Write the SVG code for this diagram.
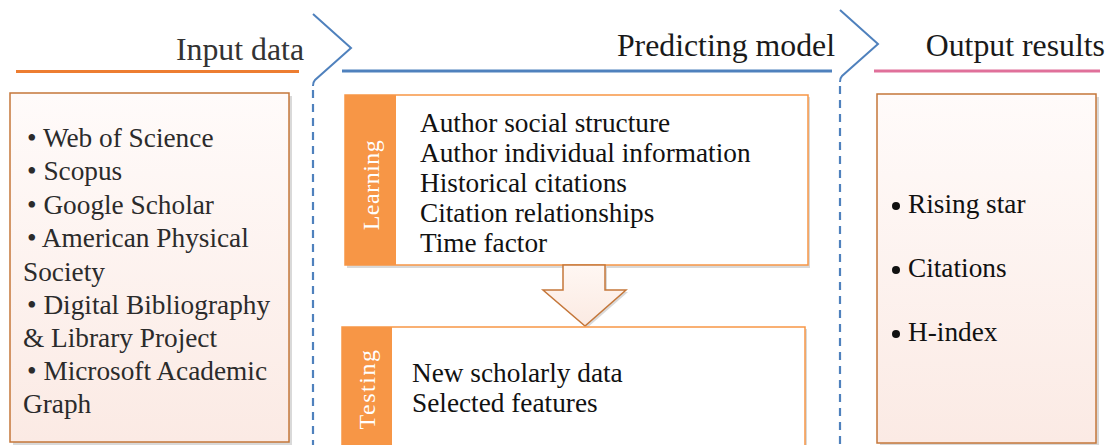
<svg xmlns="http://www.w3.org/2000/svg" width="1108" height="445" viewBox="0 0 1108 445" font-family="Liberation Serif, serif">
  <style>
    .hdr { font-size: 31.8px; fill: #1a1a1a; }
    .body { font-size: 27.3px; fill: #111; }
    .soft { fill: #2b2b2b; }
    .side { font-size: 24px; fill: #ffffff; }
    .chev { fill: none; stroke: #4F81BD; stroke-width: 2; }
    .dash { fill: none; stroke: #4F81BD; stroke-width: 2.2; stroke-dasharray: 8 6; }
    .shadow { fill: #d9d9d9; }
    .panel { fill: url(#panelFill); stroke: #C5773A; stroke-width: 1.5; }
    .card { fill: #ffffff; stroke: #F79646; stroke-width: 1.5; }
    .band { fill: #F79646; }
  </style>
  <defs>
    <linearGradient id="panelFill" x1="0" y1="0" x2="0" y2="1">
      <stop offset="0" stop-color="#FFFBFA"/>
      <stop offset="1" stop-color="#FBEAE4"/>
    </linearGradient>
    <linearGradient id="arrowFill" x1="0" y1="0" x2="0" y2="1">
      <stop offset="0" stop-color="#FFF7F3"/>
      <stop offset="1" stop-color="#FBEAE2"/>
    </linearGradient>
  </defs>

  <rect width="1108" height="445" fill="#ffffff"/>

  <!-- stage headers -->
  <g id="header-input">
    <text class="hdr" x="304" y="60" text-anchor="end" style="fill:#333">Input data</text>
    <line x1="16" y1="71.5" x2="299" y2="71.5" stroke="#ED7D31" stroke-width="3"/>
  </g>
  <g id="header-model">
    <text class="hdr" x="835" y="56" text-anchor="end">Predicting model</text>
    <line x1="342" y1="71" x2="832" y2="71" stroke="#4F81BD" stroke-width="3"/>
  </g>
  <g id="header-output">
    <text class="hdr" x="1105" y="56" text-anchor="end">Output results</text>
    <line x1="874" y1="71" x2="1100" y2="71" stroke="#E0709A" stroke-width="3"/>
  </g>

  <!-- stage separators -->
  <g id="connectors">
    <path class="chev" d="M313,14 L351,48 L315,80 Q313,82 313,86"/>
    <line class="dash" x1="313" y1="90" x2="313" y2="445"/>
    <path class="chev" d="M840,10 L878,44 L842,76 Q840,78 840,82"/>
    <line class="dash" x1="840" y1="86" x2="840" y2="445"/>
  </g>

  <!-- input data panel -->
  <g id="input-panel">
    <rect class="shadow" x="13" y="96" width="279" height="349"/>
    <rect class="panel" x="10" y="93" width="279" height="349"/>
    <g class="body soft">
      <text x="27" y="147">• Web of Science</text>
      <text x="27" y="180">• Scopus</text>
      <text x="27" y="214">• Google Scholar</text>
      <text x="27" y="247">• American Physical</text>
      <text x="23" y="281">Society</text>
      <text x="27" y="314">• Digital Bibliography</text>
      <text x="23" y="347">&amp; Library Project</text>
      <text x="27" y="380">• Microsoft Academic</text>
      <text x="23" y="413">Graph</text>
    </g>
  </g>

  <!-- learning stage -->
  <g id="learning">
    <rect class="shadow" x="347" y="97" width="463" height="171"/>
    <rect class="card" x="345" y="95" width="463" height="170"/>
    <rect class="band" x="345" y="95" width="51" height="170"/>
    <text class="side" transform="translate(379,185) rotate(-90)" text-anchor="middle" letter-spacing="0.5">Learning</text>
    <g class="body">
      <text x="420" y="132">Author social structure</text>
      <text x="420" y="162">Author individual information</text>
      <text x="420" y="192">Historical citations</text>
      <text x="420" y="222">Citation relationships</text>
      <text x="420" y="252">Time factor</text>
    </g>
  </g>

  <!-- block arrow from learning to testing -->
  <g id="flow-arrow">
    <path d="M565,268 L607,268 L607,292 L628,292 L587,328 L545,292 L565,292 Z" fill="#d9d9d9"/>
    <path d="M563,265 L605,265 L605,290 L626,290 L585,326 L543,290 L563,290 Z" fill="url(#arrowFill)" stroke="#C5773A" stroke-width="1.5" stroke-linejoin="miter"/>
  </g>

  <!-- testing stage -->
  <g id="testing">
    <rect class="shadow" x="344" y="329" width="463" height="130"/>
    <rect class="card" x="342" y="327" width="463" height="130"/>
    <rect class="band" x="342" y="327" width="50" height="130"/>
    <text class="side" transform="translate(375,389) rotate(-90)" text-anchor="middle" letter-spacing="1.5">Testing</text>
    <g class="body">
      <text x="412" y="382">New scholarly data</text>
      <text x="412" y="412">Selected features</text>
    </g>
  </g>

  <!-- output results panel -->
  <g id="output-panel">
    <rect class="shadow" x="880" y="97" width="219" height="348"/>
    <rect class="panel" x="877" y="94" width="219" height="349"/>
    <g fill="#111">
      <circle cx="896" cy="206" r="4"/>
      <circle cx="896" cy="270" r="4"/>
      <circle cx="896" cy="334" r="4"/>
    </g>
    <g class="body">
      <text x="908" y="213">Rising star</text>
      <text x="908" y="277">Citations</text>
      <text x="908" y="341">H-index</text>
    </g>
  </g>
</svg>
